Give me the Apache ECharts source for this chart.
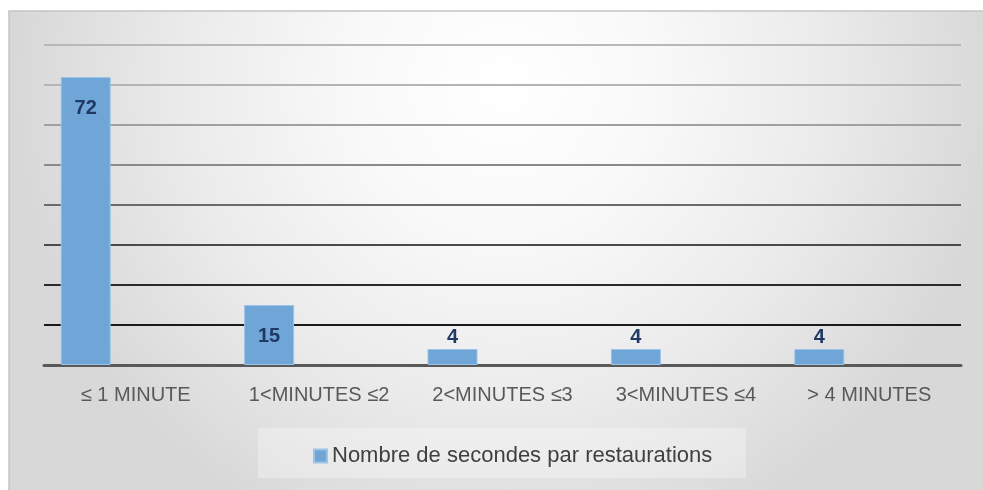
<!DOCTYPE html>
<html><head><meta charset="utf-8">
<script src="https://cdn.jsdelivr.net/npm/echarts@6/dist/echarts.min.js"></script>
<style>html,body{margin:0;padding:0;background:#fff}#c{width:983px;height:490px}</style>
</head><body><div id="c"></div>
<script>
var categories = ['≤ 1 MINUTE', '1<MINUTES ≤2', '2<MINUTES ≤3', '3<MINUTES ≤4', '> 4 MINUTES'];
var values = [72, 15, 4, 4, 4];
var seriesName = 'Nombre de secondes par restaurations';
var yMax = 80, yStep = 10;

var gridColors = ['#111', '#1a1a1a', '#2a2a2a', '#4a4a4a', '#6a6a6a', '#8a8a8a', '#a0a0a0', '#b4b4b4', '#b8b8b8'];

var chart = echarts.init(document.getElementById('c'));
chart.setOption({
  backgroundColor: '#fff',
  animation: false,
  graphic: [
    { type: 'rect', z: -100, silent: true,
      shape: { x: 9, y: 11, width: 990, height: 490 },
      style: { fill: { type: 'radial', x: 0.5, y: 0.15, r: 1.0,
        colorStops: [{ offset: 0, color: '#ffffff' }, { offset: 0.3, color: '#f9f9f9' }, { offset: 0.65, color: '#ebebeb' }, { offset: 1, color: '#d8d8d8' }] },
        stroke: '#c4c4c4', lineWidth: 1.5 } },
    { type: 'rect', z: -90, silent: true,
      shape: { x: 258, y: 428, width: 488, height: 50 },
      style: { fill: 'rgba(255,255,255,0.3)' } }
  ],
  grid: { left: 44, right: 22, top: 45, bottom: 125, containLabel: false },
  legend: {
    left: 308, top: 440, itemWidth: 13, itemHeight: 13, itemGap: 5,
    data: [{ name: seriesName, icon: 'rect' }],
    textStyle: { fontFamily: 'Liberation Sans', fontSize: 22, color: '#404040' }
  },
  xAxis: {
    type: 'category', data: categories,
    axisTick: { show: false },
    axisLine: { lineStyle: { color: '#595959', width: 3 } },
    axisLabel: { fontFamily: 'Liberation Sans', fontSize: 20, color: '#595959', margin: 20 }
  },
  yAxis: {
    type: 'value', min: 0, max: yMax, interval: yStep,
    axisLabel: { show: false }, axisLine: { show: false }, axisTick: { show: false },
    splitLine: { lineStyle: { color: gridColors, width: 2 } }
  },
  series: [
    { name: seriesName, type: 'bar', barWidth: 50, barGap: '100%',
      itemStyle: { color: '#70a5d8', borderColor: '#9cc3e8', borderWidth: 1 },
      data: values.map(function (v) {
        return { value: v, label: v >= 10 ? { position: 'insideTop', distance: 21 } : { position: 'top', distance: 2 } };
      }),
      label: { show: true, fontFamily: 'Liberation Sans', fontWeight: 'bold', fontSize: 20, color: '#1f3864' }
    },
    { name: 'empty', type: 'bar', barWidth: 50, data: values.map(function () { return null; }) }
  ]
});
</script></body></html>
